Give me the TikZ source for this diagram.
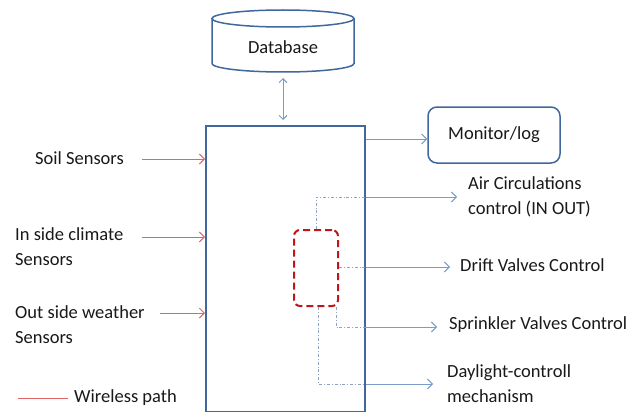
\documentclass[tikz,border=0pt]{standalone}
\usepackage{fontspec}
\setmainfont{Carlito}
\usetikzlibrary{arrows.meta}
\definecolor{boxblue}{HTML}{41689C}
\definecolor{arrblue}{HTML}{7A9CC6}
\definecolor{wred}{HTML}{E06666}
\definecolor{dred}{HTML}{C0161B}
\definecolor{dotgrey}{HTML}{8FA3C0}
\begin{document}
\begin{tikzpicture}[x=1pt,y=-1pt,
  lbl/.style={font=\fontsize{18.5}{25}\selectfont, text=black!90, inner sep=0pt, align=left},
  blk/.style={draw=boxblue, line width=1.5pt, inner sep=0pt},
  outarrow/.style={draw=arrblue, line width=1pt, -{Straight Barb[length=5pt,width=10pt]}},
  inarrow/.style={draw=wred, line width=1pt, -{Straight Barb[length=5pt,width=10pt]}},
  dblarrow/.style={draw=arrblue, line width=1pt, {Straight Barb[length=4pt,width=8pt]}-{Straight Barb[length=4pt,width=8pt]}},
  dotline/.style={draw=dotgrey, line width=0.8pt, dash pattern=on 3pt off 2pt on 0.8pt off 2pt},
  ctrlbox/.style={draw=dred, line width=2pt, dash pattern=on 7pt off 4pt, rounded corners=6pt, inner sep=0pt}
  ]
\useasboundingbox (0,0) rectangle (640,412);
\fill[white] (0,0) rectangle (640,412);

% database cylinder
\draw[blk, fill=white] (212,18.5) -- (212,63.5) arc[start angle=180, end angle=0, x radius=71, y radius=8.5] -- (354,18.5);
\draw[blk] (283,18.5) ellipse[x radius=71, y radius=8.5];
\node[lbl] (db) at (283,47) {Database};
\coordinate (dbbot) at (283,78);

% main box
\node[blk, minimum width=159pt, minimum height=286pt, anchor=north west] (main) at (205,125) {};
\draw[dblarrow] (dbbot) -- ([yshift=5pt]dbbot |- main.north);

% monitor
\node[blk, lbl, rounded corners=9pt, minimum width=132pt, minimum height=56pt] (mon) at (494,135) {Monitor/log};
\coordinate (monin) at ([yshift=-4pt]mon.west);
\draw[outarrow] (main.east |- monin) -- (monin);

% control box
\node[ctrlbox, minimum width=44pt, minimum height=76pt] (ctrl) at (316,268) {};

% output labels
\node[lbl, anchor=west] (air) at (468,197) {Air Circulations\\control (IN OUT)};
\node[lbl, anchor=west] (drift) at (460,265) {Drift Valves Control};
\node[lbl, anchor=west] (spr) at (449,325) {Sprinkler Valves Control};
\node[lbl, anchor=west] (day) at (447,384) {Daylight-controll\\mechanism};

\coordinate (airA) at ([xshift=-11pt]air.west);
\coordinate (driftA) at ([xshift=-10pt,yshift=-2pt]drift.west);
\coordinate (sprA) at ([xshift=-12pt,yshift=-2pt]spr.west);
\coordinate (dayA) at ([xshift=-14pt]day.west);

\draw[dotline] (ctrl.north) |- (main.east |- airA);
\draw[dotline] (ctrl.east |- driftA) -- (main.east |- driftA);
\draw[dotline] ([xshift=-3pt]ctrl.south east) |- (main.east |- sprA);
\draw[dotline] ([xshift=2pt]ctrl.south) |- (main.east |- dayA);

\draw[outarrow] (main.east |- airA) -- (airA);
\draw[outarrow] (main.east |- driftA) -- (driftA);
\draw[outarrow] (main.east |- sprA) -- (sprA);
\draw[outarrow] (main.east |- dayA) -- (dayA);

% inputs
\node[lbl, anchor=west] (soil) at (35,158) {Soil Sensors};
\node[lbl, anchor=west] (inside) at (15,247) {In side climate\\Sensors};
\node[lbl, anchor=west] (outside) at (15,325) {Out side weather\\Sensors};
\coordinate (soilA) at (142,159);
\coordinate (inA) at (142,237);
\coordinate (outA) at (160,313);
\draw[inarrow] (soilA) -- (soilA -| main.west);
\draw[inarrow] (inA) -- (inA -| main.west);
\draw[inarrow] (outA) -- (outA -| main.west);

% legend
\node[lbl, anchor=west] (leg) at (74,398) {Wireless path};
\coordinate (legA) at (18,398);
\draw[draw=wred, line width=1pt] (legA) -- ([xshift=-6pt]leg.west);
\end{tikzpicture}
\end{document}
